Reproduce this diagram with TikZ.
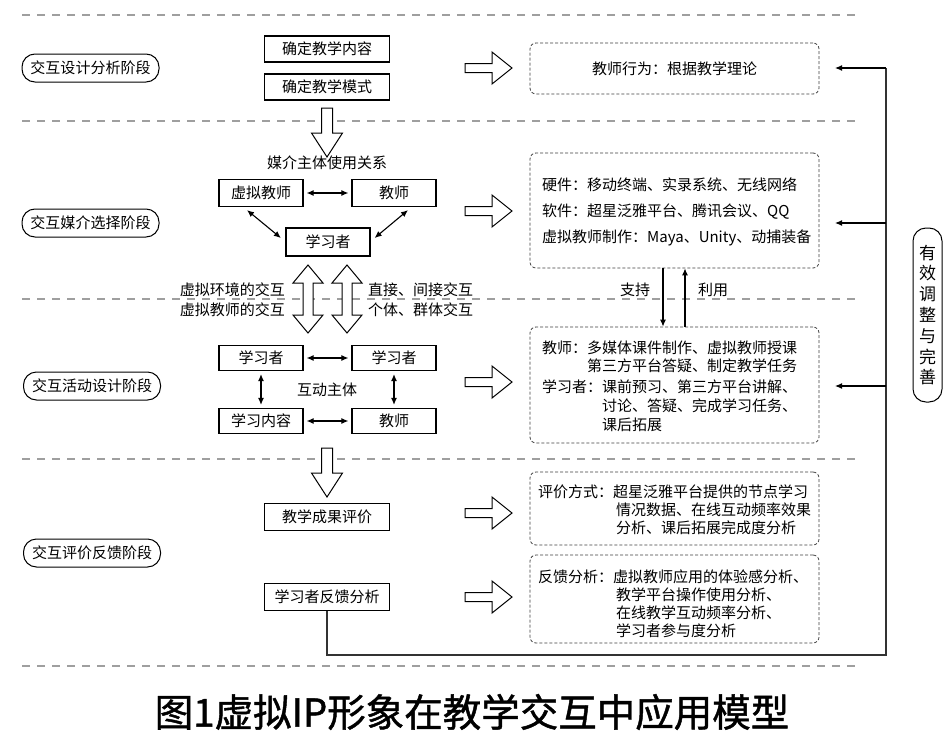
\documentclass[tikz,border=0pt]{standalone}
\usepackage{fontspec}
\setmainfont{Noto Sans CJK SC}
\newfontfamily\capfont[FakeBold=1.2]{Noto Sans CJK SC}
\usetikzlibrary{arrows.meta,calc}
\begin{document}
\begin{tikzpicture}[x=1pt,y=-1pt,
  sep/.style={draw=gray!75, line width=1.2pt, dash pattern=on 8pt off 7pt},
  stage/.style={draw, line width=1pt, rounded corners=13pt, minimum width=137pt, minimum height=28pt, inner sep=0pt, font=\fontsize{15}{17}\selectfont},
  sbox/.style={draw, line width=1.2pt, minimum width=125pt, minimum height=26pt, inner sep=0pt, font=\fontsize{15}{17}\selectfont},
  mbox/.style={draw, line width=1.2pt, minimum width=84pt, minimum height=26pt, inner sep=0pt, font=\fontsize{15}{17}\selectfont},
  dbox/.style={draw=gray!50!black, line width=0.8pt, dash pattern=on 3pt off 2pt, rounded corners=6pt, minimum width=289pt, inner sep=0pt, font=\fontsize{15}{17}\selectfont},
  txt/.style={inner sep=0pt, font=\fontsize{15}{17}\selectfont},
  arr/.style={{Latex[length=7pt,width=6pt]}-{Latex[length=7pt,width=6pt]}, line width=1.1pt, shorten <=3pt, shorten >=3pt},
  sarr/.style={-{Latex[length=7pt,width=6pt]}, line width=1.1pt},
  fbline/.style={line width=1.4pt, draw=black!80},
  hollow/.style={draw, line width=1pt, fill=white},
  rarrow/.pic={\draw[hollow] (0,-4.5) -- (27,-4.5) -- (27,-16) -- (47,0) -- (27,16) -- (27,4.5) -- (0,4.5) -- cycle;},
  darrow/.pic={\draw[hollow] (-5.5,0) -- (-5.5,25) -- (-15.5,25) -- (0,49) -- (15.5,25) -- (5.5,25) -- (5.5,0) -- cycle;},
  vdarrow/.pic={\draw[hollow] (0,0) -- (15,18) -- (5,18) -- (5,50) -- (15,50) -- (0,68) -- (-15,50) -- (-5,50) -- (-5,18) -- (-15,18) -- cycle;}
]
\useasboundingbox (0,0) rectangle (945,736);
\fill[white] (0,0) rectangle (945,736);

% separators
\foreach \yy in {15,121,299,459,666} \draw[sep] (22,\yy) -- (856,\yy);

% stage labels
\node[stage] (s1) at (90.5,68) {交互设计分析阶段};
\node[stage] (s2) at (90.5,223) {交互媒介选择阶段};
\node[stage] (s3) at (92,386) {交互活动设计阶段};
\node[stage] (s4) at (92,553) {交互评价反馈阶段};

% stage 1
\node[sbox] (b1) at (327,49) {确定教学内容};
\node[sbox] (b2) at (327,87) {确定教学模式};
\pic at (327,108) {darrow};

% stage 2
\node[txt] (tm) at (327,163) {媒介主体使用关系};
\node[mbox, minimum height=27pt] (vt) at (261,193) {虚拟教师};
\node[mbox, minimum height=27pt] (js) at (394,193) {教师};
\node[mbox, minimum height=28pt] (lx) at (328,242) {学习者};
\draw[arr] (vt.east) -- (js.west);
\draw[arr, shorten <=0pt, shorten >=0pt] ($(vt.south)+(-14,3)$) -- ($(lx.west)+(-4.5,-4)$);
\draw[arr, shorten <=0pt, shorten >=0pt] ($(js.south)+(14,3)$) -- ($(lx.east)+(4,-4)$);

% double arrows between stage 2 and 3
\pic at (308,265) {vdarrow};
\pic at (347,265) {vdarrow};
\node[txt, anchor=east] (t1) at (285,290) {虚拟环境的交互};
\node[txt, anchor=east] (t2) at (285,310) {虚拟教师的交互};
\node[txt, anchor=west] (t3) at (368,290) {直接、间接交互};
\node[txt, anchor=west] (t4) at (368,310) {个体、群体交互};

% stage 3
\node[mbox, minimum height=25pt] (la) at (261,358) {学习者};
\node[mbox, minimum height=25pt] (lb) at (394,358) {学习者};
\node[mbox, minimum height=25pt] (lc) at (261,421) {学习内容};
\node[mbox, minimum height=25pt] (ld) at (394,421) {教师};
\node[txt] (hd) at (327,390) {互动主体};
\draw[arr] (la.east) -- (lb.west);
\draw[arr] (lc.east) -- (ld.west);
\draw[arr] (la.south) -- (lc.north);
\draw[arr] (lb.south) -- (ld.north);
\pic at (327,448) {darrow};

% stage 4
\node[sbox, minimum height=27pt] (e1) at (327,517) {教学成果评价};
\node[sbox, minimum height=27pt] (e2) at (327,597) {学习者反馈分析};

% hollow right arrows
\foreach \yy in {68,211,382,513,597} \pic at (465,\yy) {rarrow};

% right dashed boxes
\node[dbox, minimum height=51pt] (r1) at (674.5,68.5) {教师行为：根据教学理论};
\node[dbox, minimum height=115pt] (r2) at (674.5,210.5) {};
\node[txt, anchor=west] (r2a) at (542,185) {硬件：移动终端、实录系统、无线网络};
\node[txt, anchor=west] (r2b) at (542,212) {软件：超星泛雅平台、腾讯会议、QQ};
\node[txt, anchor=west] (r2c) at (542,238) {虚拟教师制作：Maya、Unity、动捕装备};

\node[dbox, minimum height=116pt] (r3) at (674.5,385) {};
\node[txt, anchor=west] (r3a) at (542,348) {教师：多媒体课件制作、虚拟教师授课};
\node[txt, anchor=west] (r3b) at (587,366) {第三方平台答疑、制定教学任务};
\node[txt, anchor=west] (r3c) at (542,387) {学习者：课前预习、第三方平台讲解、};
\node[txt, anchor=west] (r3d) at (602,406) {讨论、答疑、完成学习任务、};
\node[txt, anchor=west] (r3e) at (602,425) {课后拓展};

\node[dbox, minimum height=73pt] (r4) at (674.5,508.5) {};
\node[txt, anchor=west] (r4a) at (538,492) {评价方式：超星泛雅平台提供的节点学习};
\node[txt, anchor=west] (r4b) at (616,510) {情况数据、在线互动频率效果};
\node[txt, anchor=west] (r4c) at (616,528) {分析、课后拓展完成度分析};

\node[dbox, minimum height=88pt] (r5) at (674.5,599) {};
\node[txt, anchor=west] (r5a) at (538,577) {反馈分析：虚拟教师应用的体验感分析、};
\node[txt, anchor=west] (r5b) at (616,595) {教学平台操作使用分析、};
\node[txt, anchor=west] (r5c) at (616,613) {在线教学互动频率分析、};
\node[txt, anchor=west] (r5d) at (616,631) {学习者参与度分析};

% support / use
\node[txt] (zc) at (635,290) {支持};
\node[txt] (ly) at (713,290) {利用};
\draw[sarr] ([xshift=-11.5pt]r2.south) -- ([xshift=-11.5pt]r3.north);
\draw[sarr] ([xshift=10.5pt]r3.north) -- ([xshift=10.5pt]r2.south);

% feedback loop
\coordinate (fc) at (886,655);
\coordinate (k1) at (886,68);
\coordinate (k2) at (886,223);
\coordinate (k3) at (886,386);
\coordinate (p1) at (835,68);
\coordinate (p2) at (835,223);
\coordinate (p3) at (835,386);
\draw[fbline] (e2.south) |- (fc) -- (k1);
\draw[sarr] (k1) -- (p1);
\draw[sarr] (k2) -- (p2);
\draw[sarr] (k3) -- (p3);

% vertical pill
\node[draw, line width=1pt, rounded corners=13pt, minimum width=29pt, minimum height=174pt, inner sep=0pt, align=center, font=\fontsize{17}{20.8}\selectfont] (yx) at (927.5,315) {有\\效\\调\\整\\与\\完\\善};

% caption
\node[inner sep=0pt, font=\capfont\fontsize{38.5}{40}\selectfont] (cap) at (472,712) {图1虚拟IP形象在教学交互中应用模型};
\end{tikzpicture}
\end{document}
